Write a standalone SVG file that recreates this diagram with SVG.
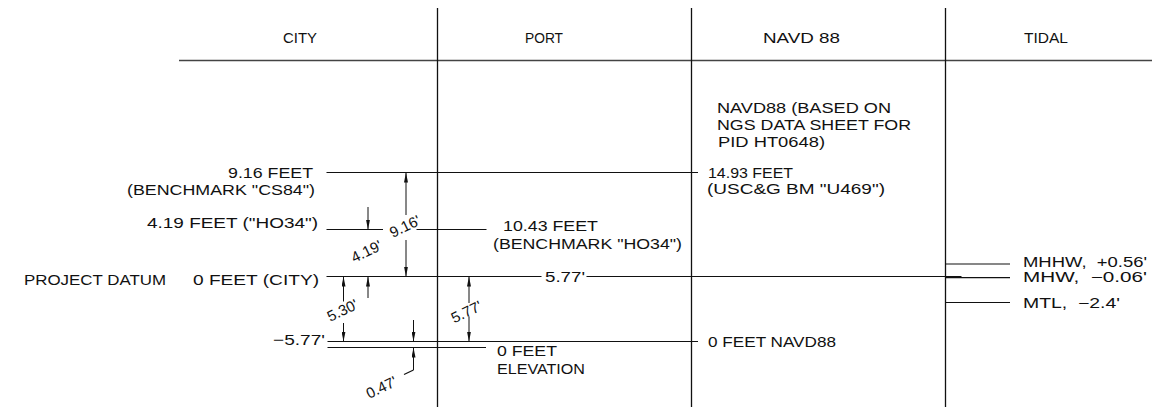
<svg xmlns="http://www.w3.org/2000/svg" width="1176" height="409" viewBox="0 0 1176 409">
<style>
text{font-family:"Liberation Sans",Arial,sans-serif;font-size:15px;fill:#111;}
.h{font-size:15px;}
.t{font-size:14.5px;}
.ln{stroke:#111;stroke-width:1.2;fill:none;}
.fr{stroke:#111;stroke-width:1.3;fill:none;}
.hd{stroke:#444;stroke-width:1.6;fill:none;}
.dm{stroke:#111;stroke-width:1;fill:none;marker-end:url(#ah);}
</style>
<defs>
<marker id="ah" markerUnits="userSpaceOnUse" markerWidth="10" markerHeight="4" viewBox="0 0 10 4" refX="10" refY="2" orient="auto">
<path d="M0,0 L10,2 L0,4 Z" fill="#111"/>
</marker>
</defs>
<rect width="1176" height="409" fill="#fff"/>
<g id="frame">
<line class="hd" x1="179" y1="60.5" x2="1152" y2="60.5"/>
<line class="fr" x1="437.5" y1="8" x2="437.5" y2="407"/>
<line class="fr" x1="691.5" y1="8" x2="691.5" y2="407"/>
<line class="fr" x1="945.5" y1="8" x2="945.5" y2="407"/>
</g>
<g id="headers">
<text class="h" x="283" y="43" textLength="34" lengthAdjust="spacingAndGlyphs">CITY</text>
<text class="h" x="525" y="43" textLength="38" lengthAdjust="spacingAndGlyphs">PORT</text>
<text class="h" x="763" y="43" textLength="77" lengthAdjust="spacingAndGlyphs">NAVD 88</text>
<text class="h" x="1024" y="43" textLength="44" lengthAdjust="spacingAndGlyphs">TIDAL</text>
</g>
<g id="city-cs84">
<text x="228" y="178" textLength="85" lengthAdjust="spacingAndGlyphs">9.16 FEET</text>
<text x="127" y="195" textLength="188" lengthAdjust="spacingAndGlyphs">(BENCHMARK "CS84")</text>
</g>
<g id="city-ho34">
<text x="147" y="228" textLength="171" lengthAdjust="spacingAndGlyphs">4.19 FEET ("HO34")</text>
</g>
<g id="project-datum">
<text x="24" y="284.5" textLength="142" lengthAdjust="spacingAndGlyphs">PROJECT DATUM</text>
<text x="193" y="284.5" textLength="126" lengthAdjust="spacingAndGlyphs">0 FEET (CITY)</text>
</g>
<g id="city-minus577">
<text x="273" y="345" textLength="52" lengthAdjust="spacingAndGlyphs">−5.77'</text>
</g>
<g id="port-ho34">
<text x="503" y="231" textLength="95" lengthAdjust="spacingAndGlyphs">10.43 FEET</text>
<text x="493" y="248.5" textLength="189" lengthAdjust="spacingAndGlyphs">(BENCHMARK "HO34")</text>
</g>
<g id="port-zero">
<text x="497" y="356" textLength="60" lengthAdjust="spacingAndGlyphs">0 FEET</text>
<text x="497" y="374" textLength="88" lengthAdjust="spacingAndGlyphs">ELEVATION</text>
</g>
<g id="navd-note">
<text x="717" y="112.5" textLength="174" lengthAdjust="spacingAndGlyphs">NAVD88 (BASED ON</text>
<text x="717" y="129.5" textLength="194" lengthAdjust="spacingAndGlyphs">NGS DATA SHEET FOR</text>
<text x="718" y="147" textLength="107" lengthAdjust="spacingAndGlyphs">PID HT0648)</text>
</g>
<g id="navd-u469">
<text x="708" y="178" textLength="85" lengthAdjust="spacingAndGlyphs">14.93 FEET</text>
<text x="707" y="194" textLength="178" lengthAdjust="spacingAndGlyphs">(USC&amp;G BM "U469")</text>
</g>
<g id="navd-zero">
<text x="708" y="347" textLength="128" lengthAdjust="spacingAndGlyphs">0 FEET NAVD88</text>
</g>
<g id="tidal-mhhw">
<text class="t" x="1023" y="266.5" xml:space="preserve" textLength="124" lengthAdjust="spacingAndGlyphs">MHHW,  +0.56'</text>
</g>
<g id="tidal-mhw">
<text class="t" x="1023" y="282" xml:space="preserve" textLength="124" lengthAdjust="spacingAndGlyphs">MHW,  −0.06'</text>
</g>
<g id="tidal-mtl">
<text class="t" x="1023" y="307.5" xml:space="preserve" textLength="97" lengthAdjust="spacingAndGlyphs">MTL,  −2.4'</text>
</g>
<g id="connectors">
<line class="ln" x1="326.5" y1="172.5" x2="698" y2="172.5"/>
<line class="ln" x1="326.5" y1="229.5" x2="383" y2="229.5"/>
<line class="ln" x1="416.5" y1="229.5" x2="486.5" y2="229.5"/>
<line class="ln" x1="326.5" y1="276.5" x2="541.5" y2="276.5"/>
<line class="ln" x1="586.5" y1="276.5" x2="961.5" y2="276.5"/>
<text x="545" y="282" textLength="40" lengthAdjust="spacingAndGlyphs">5.77'</text>
<line class="ln" x1="327.5" y1="341.5" x2="698" y2="341.5"/>
<line class="ln" x1="327.5" y1="347.5" x2="486" y2="347.5"/>
<line class="ln" x1="945.5" y1="264" x2="1010" y2="264"/>
<line class="ln" x1="945.5" y1="277.7" x2="1010" y2="277.7"/>
<line class="ln" x1="945.5" y1="302.5" x2="1010" y2="302.5"/>
<line class="dm" x1="406" y1="215" x2="406" y2="172.5"/>
<line class="dm" x1="406" y1="240" x2="406" y2="276.5"/>
<text transform="translate(405 226.5) rotate(-26)" x="0" y="5" text-anchor="middle">9.16'</text>
<line class="dm" x1="368" y1="207" x2="368" y2="229.5"/>
<line class="dm" x1="368" y1="298" x2="368" y2="276.5"/>
<text transform="translate(366.5 251.5) rotate(-26)" x="0" y="5" text-anchor="middle">4.19'</text>
<line class="dm" x1="343.5" y1="301.5" x2="343.5" y2="276.5"/>
<line class="dm" x1="343.5" y1="323" x2="343.5" y2="341.5"/>
<text transform="translate(342.5 310.5) rotate(-26)" x="0" y="5" text-anchor="middle">5.30'</text>
<line class="dm" x1="469" y1="303" x2="469" y2="276.5"/>
<line class="dm" x1="469" y1="316.5" x2="469" y2="341.5"/>
<text transform="translate(466.5 312) rotate(-26)" x="0" y="5" text-anchor="middle">5.77'</text>
<line class="dm" x1="413.5" y1="320" x2="413.5" y2="341.5"/>
<line class="dm" x1="413.5" y1="370" x2="413.5" y2="347.5"/>
<line class="ln" x1="404" y1="374.5" x2="413.5" y2="370"/>
<text transform="translate(381.5 387.5) rotate(-26)" x="0" y="5" text-anchor="middle">0.47'</text>
</g>
</svg>
